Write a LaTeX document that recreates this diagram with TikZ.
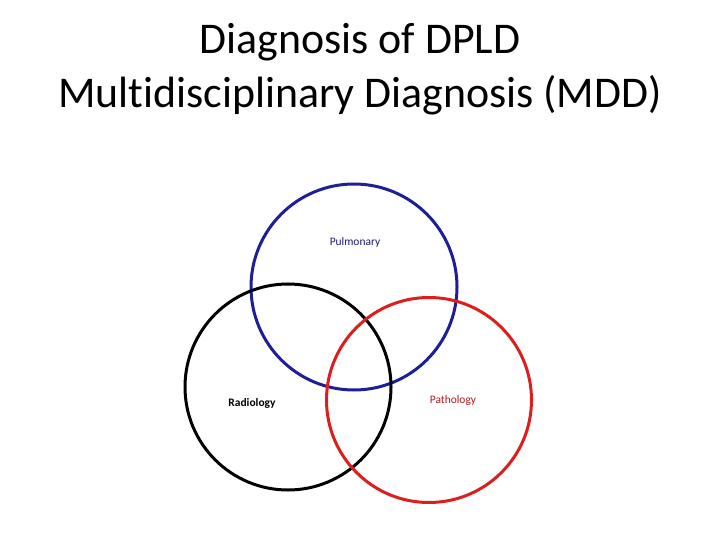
\documentclass[tikz,border=0pt]{standalone}
\usepackage{fontspec}
\setmainfont[Ligatures=NoCommon]{Carlito}
\begin{document}
\begin{tikzpicture}[x=1bp,y=-1bp,
  ring/.style={line width=3bp},
  lab/.style={font=\fontsize{11.5}{13}\selectfont, inner sep=0pt}]
\useasboundingbox (0,0) rectangle (720,540);
\definecolor{pulblue}{RGB}{30,30,150}
\definecolor{patred}{RGB}{220,30,30}
\node[font=\fontsize{44}{54}\selectfont, align=center, inner sep=0pt] (title) at (360,69)
  {Diagnosis of DPLD\\Multidisciplinary Diagnosis (MDD)};
\node[draw=pulblue, ring, circle, minimum size=206bp, inner sep=0pt] (pul) at (354,287) {};
\node[draw=black, ring, circle, minimum size=206bp, inner sep=0pt] (rad) at (288,387) {};
\node[draw=patred, ring, circle, minimum size=205bp, inner sep=0pt] (pat) at (429,400) {};
\node[lab, text=pulblue!80!black] (lpul) at (355,242) {Pulmonary};
\node[lab, font=\fontsize{11.5}{13}\selectfont\bfseries] (lrad) at (252,403) {Radiology};
\node[lab, text=patred!85!black] (lpat) at (453,401) {Pathology};
\end{tikzpicture}
\end{document}
